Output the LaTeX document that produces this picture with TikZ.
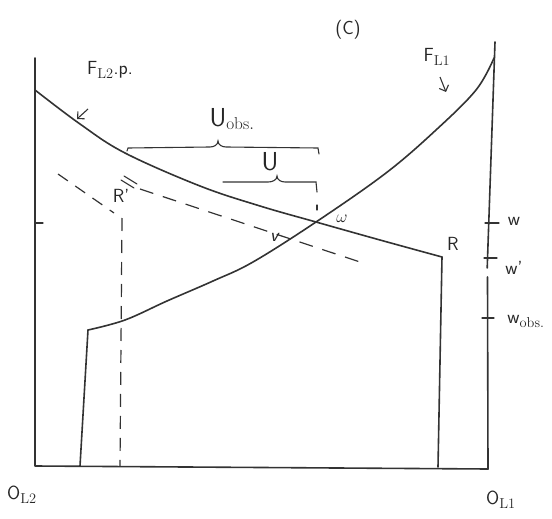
\documentclass[tikz,border=0pt]{standalone}
\usetikzlibrary{arrows.meta}
\begin{document}
\begin{tikzpicture}[x=1pt,y=-1pt,
  ink/.style={draw=black!80, line width=1.6pt, line cap=round, line join=round},
  thin ink/.style={draw=black!80, line width=1.1pt, line cap=round},
  dashline/.style={draw=black!80, line width=1.2pt, dash pattern=on 12pt off 9pt},
  lbl/.style={font=\sffamily\fontsize{19}{22}\selectfont, text=black!85, inner sep=0pt},
  big/.style={font=\sffamily\fontsize{26}{30}\selectfont},
  small arrow/.style={draw=black!80, line width=1.1pt, -{Straight Barb[length=5pt]}}]
\useasboundingbox (0,0) rectangle (552,519);
% axes
\coordinate (ltop) at (35,58);
\coordinate (o2) at (35,466);
\coordinate (o1) at (488,469);
\coordinate (rtop) at (495,42);
\draw[ink] (ltop) -- (o2) -- (o1);
\draw[ink] (o1) -- (487.5,277);
\draw[ink] (487.2,268) -- (rtop);
% ticks
\draw[thin ink] (35,223) -- (43,223);
\draw[thin ink] (485,223) -- (499,223);
\draw[thin ink] (484,258) -- (497,258);
\draw[thin ink] (482,318) -- (494,318);
% F_L2 curve and R
\coordinate (R) at (442,257);
\draw[ink] plot[smooth, tension=0.6] coordinates {(35,90) (80,124) (125,153) (200,186) (260,206) (316,222) (380,240) (R)};
\draw[ink] (R) -- (438,467);
% F_L1 curve
\coordinate (kink) at (88,330);
\draw[ink] plot[smooth, tension=0.6] coordinates {(kink) (125,320) (167,301) (213,281) (253,262) (316,222) (386,173) (436,130) (476,90) (494,58)};
\draw[ink] (kink) -- (80,466);
% dashed lines
\draw[dashline] (58,174) -- (114,213);
\draw[dashline, dash pattern=on 14pt off 10pt] (140,189) -- (363,263);
\draw[thin ink] (121,180) -- (134,188);
\draw[thin ink] (124,176) -- (137,184);
\draw[dashline, dash pattern=on 13pt off 9pt] (122,218) -- (120,466);
% braces
\draw[thin ink] (127,151) -- (128,148) -- (210,147) to[out=0,in=-90] (218,141) to[out=-90,in=180] (226,147) -- (318,148) -- (319,154);
\draw[thin ink] (223,182) -- (268,182) to[out=0,in=-90] (277,176) to[out=-90,in=180] (285,182) -- (316,182) -- (317,192);
\draw[thin ink] (317,205) -- (317,210);
% labels
\node[lbl] (title) at (348,30) {(C)};
\node[lbl] (fl2) at (110,70) {F$_{\mathrm{L2}}$.p.};
\node[lbl] (fl1) at (437,57) {F$_{\mathrm{L1}}$};
\draw[small arrow] (88,109) -- (77,119);
\draw[small arrow] (440,77) -- (446,92);
\node[lbl, big] (uobs) at (232,119) {U$_{\mathrm{obs.}}$};
\node[lbl, big] (u) at (270,162) {U};
\node[lbl] (Rl) at (453,244) {R};
\node[lbl] (Rp) at (121,196) {R'};
\node[lbl] (v) at (275,237) {\textit{v}};
\node[lbl] (om) at (342,219) {$\omega$};
\node[lbl] (w) at (514,221) {w};
\node[lbl] (wp) at (514,268) {w'};
\node[lbl] (wobs) at (526,321) {w$_{\mathrm{obs.}}$};
\node[lbl] (ol2) at (22,495) {O$_{\mathrm{L2}}$};
\node[lbl] (ol1) at (501,500) {O$_{\mathrm{L1}}$};
\end{tikzpicture}
\end{document}
